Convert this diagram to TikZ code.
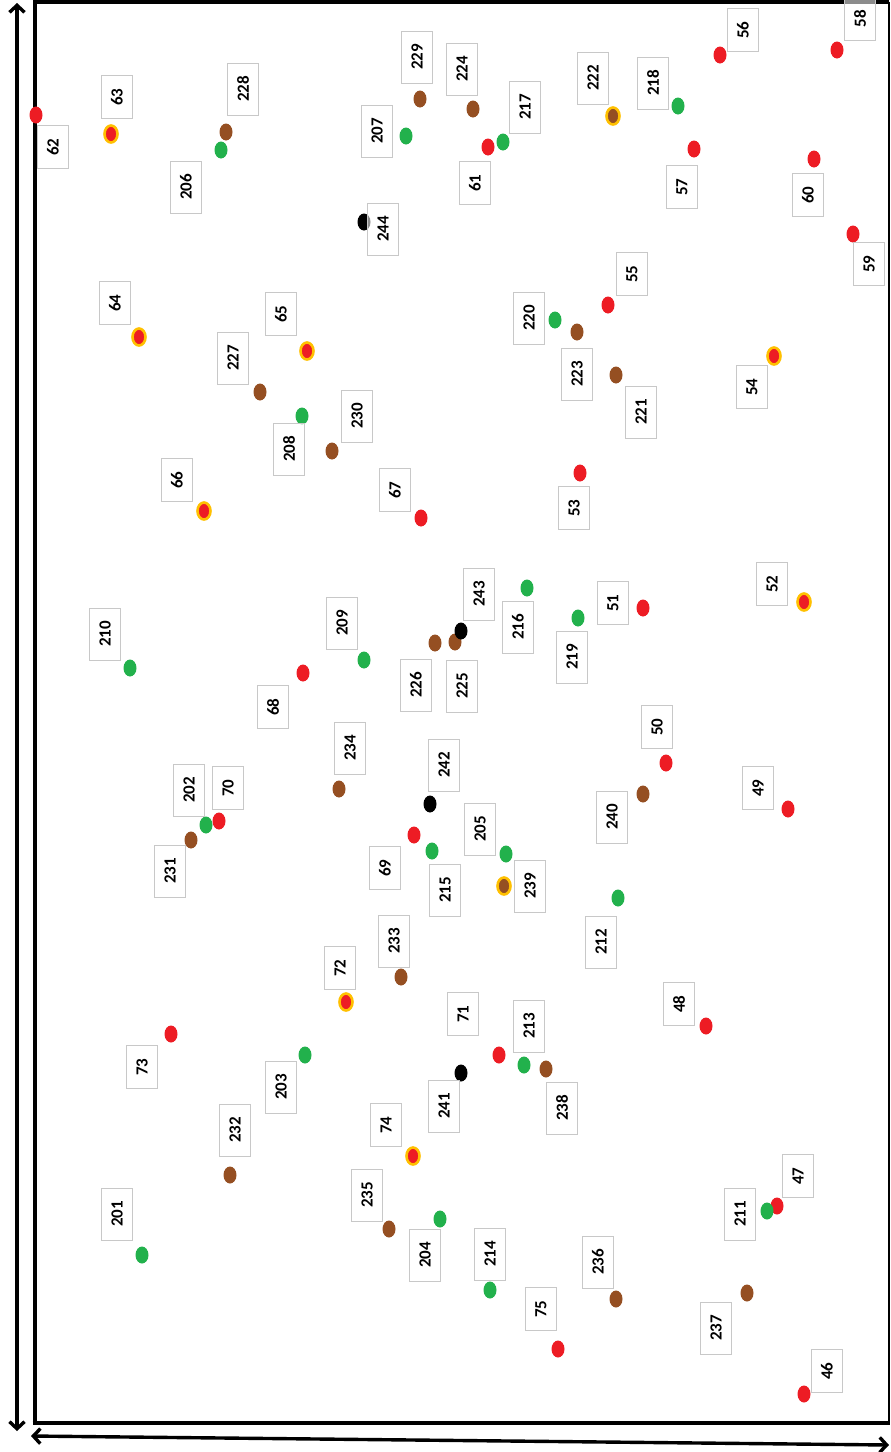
\documentclass[tikz,border=0pt]{standalone}
\usepackage{fontspec}
\setmainfont{Carlito}
\usetikzlibrary{shapes.geometric,arrows.meta}
\definecolor{dred}{HTML}{ED1C24}
\definecolor{dgreen}{HTML}{22B14C}
\definecolor{dbrown}{HTML}{954F22}
\definecolor{dring}{HTML}{FFC000}
\definecolor{boxgray}{HTML}{C8C8C8}
\begin{document}
\begin{tikzpicture}[x=1pt,y=-1pt,
  dot/.style={ellipse,inner sep=0pt,minimum width=13pt,minimum height=17pt,draw=none},
  rd/.style={dot,fill=dred},
  gd/.style={dot,fill=dgreen},
  bd/.style={dot,fill=dbrown},
  kd/.style={dot,fill=black},
  rrd/.style={ellipse,inner sep=0pt,minimum width=13pt,minimum height=17pt,draw=dring,line width=2.6pt,fill=dred},
  rbd/.style={ellipse,inner sep=0pt,minimum width=13pt,minimum height=17pt,draw=dring,line width=2.6pt,fill=dbrown},
  lbl/.style={rotate=90,draw=boxgray,line width=1pt,fill=white,fill opacity=0.55,text opacity=1,
    minimum width=52pt,minimum height=31pt,inner sep=0pt,
    font=\fontsize{17}{17}\selectfont\bfseries},
  lbltwo/.style={lbl,minimum width=43pt},
  axis/.style={line width=3.4pt,{Straight Barb[length=7pt,width=15pt]}-{Straight Barb[length=7pt,width=15pt]}}
]
\useasboundingbox (0,0) rectangle (891,1452);
% frame
\draw[line width=4pt] (34.5,1423) -- (34.5,1.5) -- (889,1.5);
\draw[line width=4pt] (32.5,1423) -- (889,1423);
\draw[line width=1.5pt] (889,1.5) -- (889,1425);
% axis arrows
\coordinate (vt) at (17,3);
\coordinate (vb) at (17,1431);
\draw[axis] (vt) -- (vb);
\coordinate (hl) at (31,1436);
\coordinate (hr) at (889,1445);
\draw[axis] (hl) -- (hr);
% dots
\node[rd] (p1) at (36,115) {};
\node[rrd] (p2) at (111,134) {};
\node[bd] (p3) at (226,132) {};
\node[gd] (p4) at (221,150) {};
\node[bd] (p5) at (420,99) {};
\node[bd] (p6) at (473,109) {};
\node[gd] (p7) at (406,136) {};
\node[rd] (p9) at (488,147) {};
\node[gd] (p8) at (503,142) {};
\node[kd] (p10) at (364,222) {};
\node[rbd] (p11) at (613,116) {};
\node[gd] (p12) at (678,106) {};
\node[rd] (p13) at (720,55) {};
\node[rd] (p14) at (837,50) {};
\node[rd] (p15) at (694,149) {};
\node[rd] (p16) at (814,159) {};
\node[rd] (p17) at (853,234) {};
\node[rd] (p18) at (608,305) {};
\node[gd] (p19) at (555,320) {};
\node[bd] (p20) at (577,332) {};
\node[bd] (p21) at (616,375) {};
\node[rrd] (p22) at (774,356) {};
\node[rrd] (p23) at (139,337) {};
\node[rrd] (p24) at (307,351) {};
\node[bd] (p25) at (260,392) {};
\node[bd] (p26) at (332,451) {};
\node[gd] (p27) at (302,416) {};
\node[rrd] (p28) at (204,511) {};
\node[rd] (p29) at (421,518) {};
\node[rd] (p30) at (580,473) {};
\node[gd] (p32) at (527,588) {};
\node[gd] (p33) at (578,618) {};
\node[rd] (p34) at (643,608) {};
\node[rrd] (p35) at (804,602) {};
\node[gd] (p36) at (130,668) {};
\node[gd] (p37) at (364,660) {};
\node[bd] (p38) at (435,643) {};
\node[bd] (p39) at (455,642) {};
\node[kd] (p31) at (461,631) {};
\node[rd] (p40) at (303,673) {};
\node[rd] (p41) at (666,763) {};
\node[bd] (p42) at (339,789) {};
\node[kd] (p43) at (430,804) {};
\node[gd] (p44) at (206,825) {};
\node[rd] (p45) at (219,821) {};
\node[bd] (p46) at (191,840) {};
\node[bd] (p47) at (643,794) {};
\node[rd] (p48) at (788,809) {};
\node[gd] (p49) at (506,854) {};
\node[rd] (p50) at (414,835) {};
\node[gd] (p51) at (432,851) {};
\node[rbd] (p52) at (504,886) {};
\node[gd] (p53) at (618,898) {};
\node[bd] (p54) at (401,977) {};
\node[rrd] (p55) at (346,1002) {};
\node[rd] (p56) at (706,1026) {};
\node[rd] (p57) at (499,1055) {};
\node[gd] (p58) at (524,1065) {};
\node[bd] (p59) at (546,1069) {};
\node[rd] (p60) at (171,1034) {};
\node[gd] (p61) at (305,1055) {};
\node[kd] (p62) at (461,1073) {};
\node[bd] (p63) at (230,1175) {};
\node[rrd] (p64) at (413,1156) {};
\node[rd] (p65) at (777,1206) {};
\node[gd] (p66) at (767,1211) {};
\node[gd] (p67) at (142,1255) {};
\node[bd] (p68) at (389,1229) {};
\node[gd] (p69) at (440,1219) {};
\node[gd] (p70) at (490,1290) {};
\node[bd] (p71) at (616,1299) {};
\node[bd] (p72) at (747,1293) {};
\node[rd] (p73) at (558,1349) {};
\node[rd] (p74) at (804,1394) {};
% labels
\node[lbltwo] (l62) at (53,147) {62};
\node[lbltwo] (l63) at (117,97) {63};
\node[lbl] (l228) at (243,89) {228};
\node[lbl] (l206) at (186,187) {206};
\node[lbl] (l229) at (417,57) {229};
\node[lbl] (l224) at (462,69) {224};
\node[lbl] (l207) at (377,131) {207};
\node[lbl] (l217) at (525,107) {217};
\node[lbltwo] (l61) at (475,183) {61};
\node[lbl] (l244) at (383,229) {244};
\node[lbl] (l222) at (593,78) {222};
\node[lbl] (l218) at (653,83) {218};
\node[lbltwo] (l56) at (743,30) {56};
\node[lbltwo] (l58) at (860,18.5) {58};
\node[lbltwo] (l57) at (682,187) {57};
\node[lbltwo] (l60) at (808,195) {60};
\node[lbltwo] (l59) at (869,264) {59};
\node[lbltwo] (l55) at (632,274) {55};
\node[lbl] (l220) at (529,318) {220};
\node[lbl] (l223) at (577,374) {223};
\node[lbl] (l221) at (641,412) {221};
\node[lbltwo] (l54) at (752,387) {54};
\node[lbltwo] (l64) at (115,303) {64};
\node[lbltwo] (l65) at (281,314) {65};
\node[lbl] (l227) at (233,358) {227};
\node[lbl] (l230) at (357,416) {230};
\node[lbl] (l208) at (289,449) {208};
\node[lbltwo] (l66) at (177,480) {66};
\node[lbltwo] (l67) at (395,490) {67};
\node[lbltwo] (l53) at (574,508) {53};
\node[lbl] (l243) at (479,594) {243};
\node[lbl] (l216) at (518,627) {216};
\node[lbl] (l219) at (572,657) {219};
\node[lbltwo] (l51) at (613,603) {51};
\node[lbltwo] (l52) at (772,584) {52};
\node[lbl] (l210) at (105,634) {210};
\node[lbl] (l209) at (342,623) {209};
\node[lbl] (l226) at (416,685) {226};
\node[lbl] (l225) at (462,686) {225};
\node[lbltwo] (l68) at (273,707) {68};
\node[lbltwo] (l50) at (657,727) {50};
\node[lbl] (l234) at (350,748) {234};
\node[lbl] (l242) at (444,765) {242};
\node[lbl] (l202) at (189,790) {202};
\node[lbltwo] (l70) at (228,788) {70};
\node[lbl] (l231) at (170,871) {231};
\node[lbl] (l240) at (612,817) {240};
\node[lbltwo] (l49) at (758,788) {49};
\node[lbl] (l205) at (480,829) {205};
\node[lbltwo] (l69) at (385,868) {69};
\node[lbl] (l215) at (445,890) {215};
\node[lbl] (l239) at (530,886) {239};
\node[lbl] (l212) at (601,942) {212};
\node[lbl] (l233) at (394,941) {233};
\node[lbltwo] (l72) at (340,968) {72};
\node[lbltwo] (l48) at (679,1004) {48};
\node[lbltwo] (l71) at (463,1014) {71};
\node[lbl] (l213) at (529,1026) {213};
\node[lbltwo] (l73) at (142,1067) {73};
\node[lbl] (l203) at (281,1087) {203};
\node[lbl] (l241) at (444,1106) {241};
\node[lbl] (l238) at (562,1108) {238};
\node[lbl] (l232) at (235,1130) {232};
\node[lbltwo] (l74) at (386,1125) {74};
\node[lbltwo] (l47) at (798,1176) {47};
\node[lbl] (l211) at (740,1214) {211};
\node[lbl] (l201) at (117,1214) {201};
\node[lbl] (l235) at (367,1195) {235};
\node[lbl] (l204) at (425,1255) {204};
\node[lbl] (l214) at (490,1254) {214};
\node[lbl] (l236) at (598,1262) {236};
\node[lbl] (l237) at (716,1328) {237};
\node[lbltwo] (l75) at (541,1309) {75};
\node[lbltwo] (l46) at (827,1371) {46};
\end{tikzpicture}
\end{document}
